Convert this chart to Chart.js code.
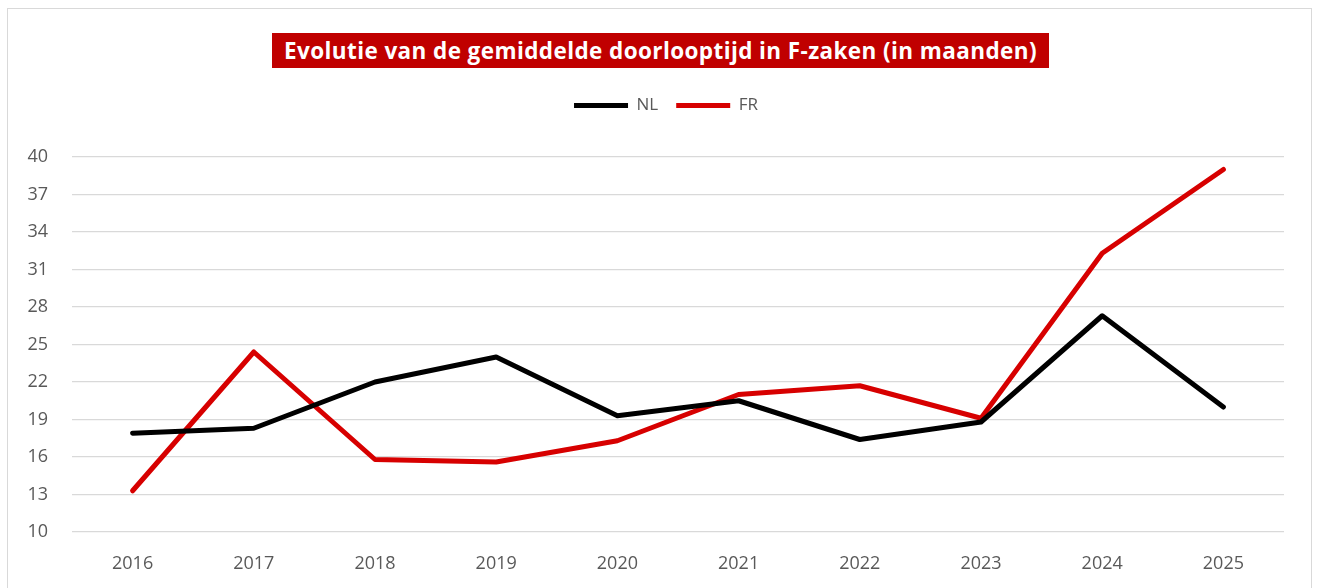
<!DOCTYPE html>
<html>
<head>
<meta charset="utf-8">
<script src="https://cdn.jsdelivr.net/npm/chart.js@4.4.1/dist/chart.umd.min.js"></script>
<style>
  html, body { margin: 0; padding: 0; background: #fff; }
  body { width: 1319px; height: 588px; position: relative; overflow: hidden; }
  #frame { position: absolute; left: 7px; top: 8px; width: 1305px; height: 600px; border: 1px solid #d9d9d9; box-sizing: border-box; }
  #title { position: absolute; left: 272px; top: 33px; width: 777px; height: 35px; background: #c00000; color: #fff;
           font-family: "Open Sans", sans-serif; font-weight: 700; font-size: 22.5px; line-height: 35px; text-align: center; white-space: nowrap; letter-spacing: 0.4px; }
  #wrap { position: absolute; left: 0; top: 0; width: 1319px; height: 588px; }
</style>
</head>
<body>
<div id="frame"></div>
<div id="wrap"><canvas id="c" width="1319" height="588"></canvas></div>
<div id="title">Evolutie van de gemiddelde doorlooptijd in F-zaken (in maanden)</div>
<script>
const years = ["2016","2017","2018","2019","2020","2021","2022","2023","2024","2025"];
const nlValues = [17.9, 18.3, 22.0, 24.0, 19.3, 20.5, 17.4, 18.8, 27.3, 20.0];
const frValues = [13.3, 24.4, 15.8, 15.6, 17.3, 21.0, 21.7, 19.1, 32.3, 39.0];
const yMin = 10, yMax = 40, yStep = 3;

const font = "Open Sans";

const legendSpacer = {
  id: 'legendSpacer',
  afterInit(chart) {
    const lg = chart.legend;
    if (!lg) return;
    const orig = lg.fit;
    lg.fit = function() { orig.call(this); this.height += 33; };
  },
  afterLayout(chart) {
    const lg = chart.legend;
    if (!lg) return;
    lg.left += 24; lg.right += 24;
  }
};

new Chart(document.getElementById('c'), {
  type: 'line',
  data: {
    labels: years,
    datasets: [
      { label: 'NL', data: nlValues, borderColor: '#000000', backgroundColor: '#000000', borderWidth: 5, pointRadius: 0, tension: 0, borderCapStyle: 'round', borderJoinStyle: 'round' },
      { label: 'FR', data: frValues, borderColor: '#d70000', backgroundColor: '#d70000', borderWidth: 5, pointRadius: 0, tension: 0, borderCapStyle: 'round', borderJoinStyle: 'round' }
    ]
  },
  plugins: [legendSpacer],
  options: {
    responsive: false,
    animation: false,
    devicePixelRatio: 1,
    layout: { padding: { top: 79, left: 0, right: 35, bottom: 0 } },
    plugins: {
      title: { display: false },
      tooltip: { enabled: false },
      legend: {
        display: true,
        position: 'top',
        labels: {
          usePointStyle: true,
          pointStyle: 'line',
          pointStyleWidth: 54,
          boxWidth: 54,
          boxHeight: 4,
          padding: 18,
          color: '#595959',
          font: { family: font, size: 17 }
        }
      }
    },
    scales: {
      x: {
        offset: true,
        grid: { display: false, drawTicks: false },
        border: { display: false },
        ticks: { color: '#595959', font: { family: font, size: 18 }, padding: 21, maxRotation: 0 },
        afterFit: (s) => { s.height = 56; }
      },
      y: {
        min: yMin, max: yMax,
        grid: { color: '#d9d9d9', lineWidth: 1.3, drawTicks: false },
        border: { display: false },
        ticks: { stepSize: yStep, color: '#595959', font: { family: font, size: 18 }, padding: 24 },
        afterFit: (s) => { s.width = 72; }
      }
    }
  }
});
</script>
</body>
</html>
